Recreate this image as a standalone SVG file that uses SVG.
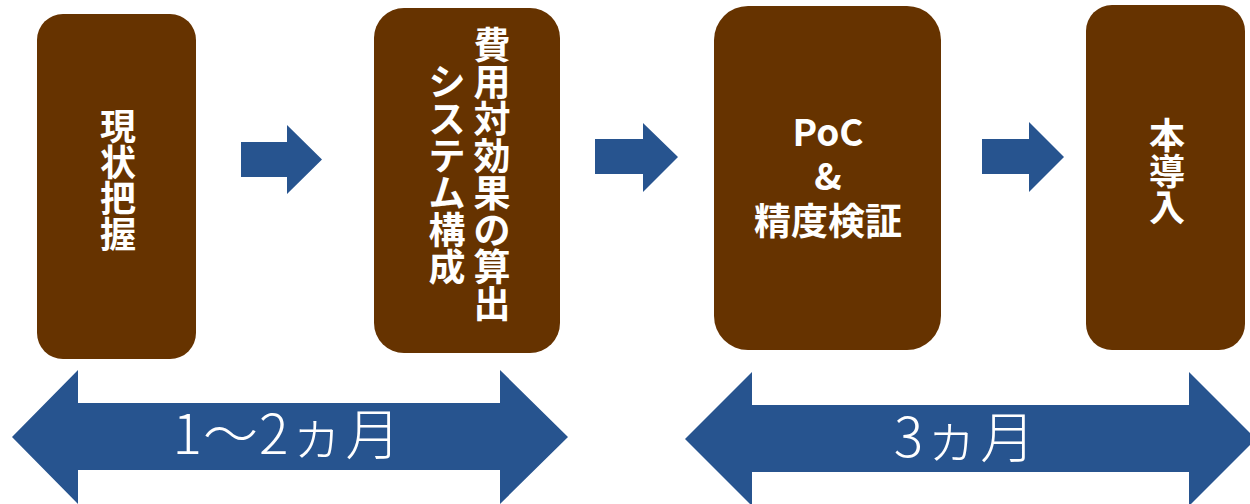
<svg xmlns="http://www.w3.org/2000/svg" width="1250" height="504" viewBox="0 0 1250 504">
<style>
.box{fill:#663300}
.arr{fill:#27548F}
.bt{font-family:"Noto Sans CJK JP","Noto Sans",sans-serif;font-weight:bold;fill:#ffffff;text-anchor:middle}
.pt{font-family:"Noto Sans CJK JP","Noto Sans",sans-serif;font-weight:300;fill:#ffffff;text-anchor:middle;font-size:55px}
</style>
<rect width="1250" height="504" fill="#ffffff"/>
<g id="node-genjo">
<rect class="box" x="37" y="14" width="159" height="345" rx="26"/>
<text class="bt" font-size="36"><tspan x="118" y="140">現</tspan><tspan x="118" y="176">状</tspan><tspan x="118" y="212">把</tspan><tspan x="118" y="248">握</tspan></text>
</g>
<g id="node-hiyo">
<rect class="box" x="374" y="8" width="186" height="345" rx="30"/>
<text class="bt" font-size="37"><tspan x="492" y="59">費</tspan><tspan x="492" y="96">用</tspan><tspan x="492" y="133">対</tspan><tspan x="492" y="170">効</tspan><tspan x="492" y="207">果</tspan><tspan x="492" y="244">の</tspan><tspan x="492" y="281">算</tspan><tspan x="492" y="318">出</tspan></text>
<text class="bt" font-size="37"><tspan x="447" y="96">シ</tspan><tspan x="447" y="133">ス</tspan><tspan x="447" y="170">テ</tspan><tspan x="447" y="207">ム</tspan><tspan x="447" y="244">構</tspan><tspan x="447" y="281">成</tspan></text>
</g>
<g id="node-poc">
<rect class="box" x="714" y="6" width="227" height="344" rx="34"/>
<text class="bt" font-size="37"><tspan x="828" y="146">PoC</tspan><tspan x="828" y="190">&amp;</tspan><tspan x="828" y="235">精度検証</tspan></text>
</g>
<g id="node-hon">
<rect class="box" x="1086" y="5" width="159" height="345" rx="26"/>
<text class="bt" font-size="36"><tspan x="1167" y="149">本</tspan><tspan x="1167" y="185">導</tspan><tspan x="1167" y="221">入</tspan></text>
</g>
<g id="connectors">
<polygon class="arr" points="241,142 287,142 287,125 322,159.5 287,194 287,177 241,177"/>
<polygon class="arr" points="595,139 643,139 643,123 678,157 643,192 643,174 595,174"/>
<polygon class="arr" points="982,139 1029,139 1029,122 1064,157 1029,192 1029,174 982,174"/>
</g>
<g id="period-1">
<polygon class="arr" points="12,437 78,370 78,403 500,403 500,370 568,437 500,504 500,470 78,470 78,504"/>
<text class="pt" x="287" y="454" letter-spacing="1">1〜2ヵ月</text>
</g>
<g id="period-2">
<polygon class="arr" points="685,439 752,372 752,405 1189,405 1189,372 1256,439 1189,506 1189,472 752,472 752,506"/>
<text class="pt" x="965" y="457" letter-spacing="1">3ヵ月</text>
</g>
</svg>
